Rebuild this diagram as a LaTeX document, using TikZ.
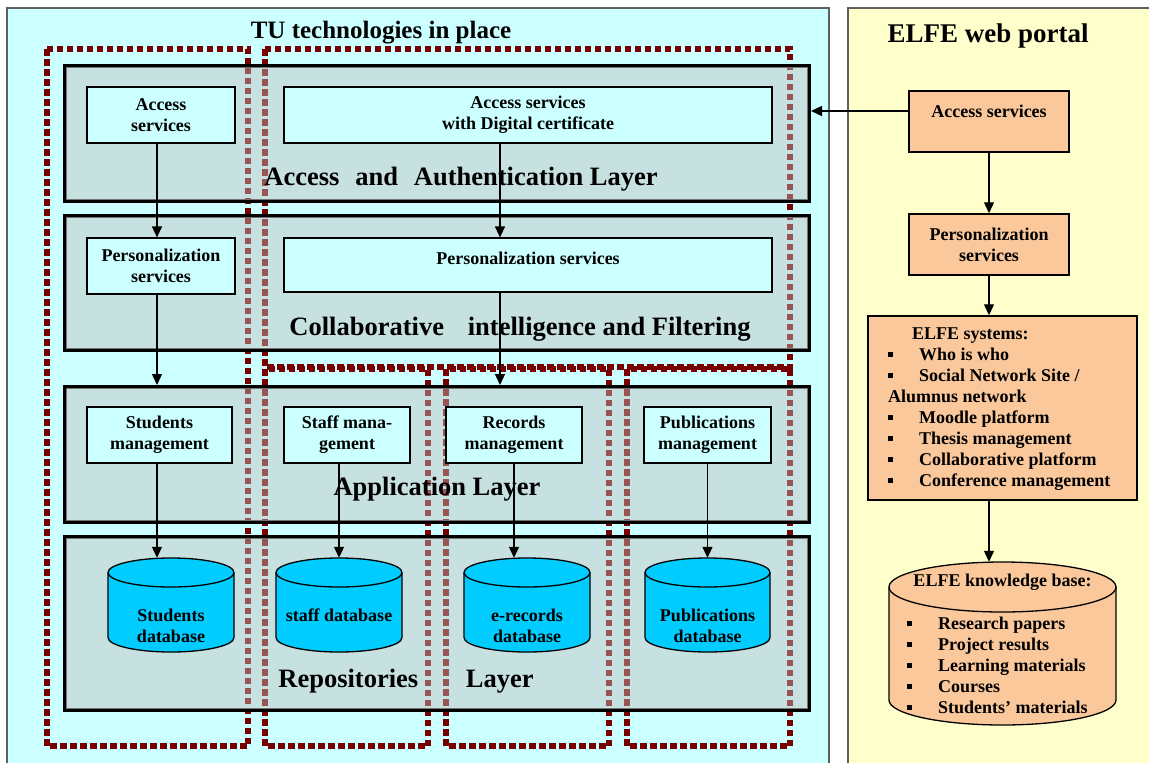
\documentclass[tikz,border=0pt]{standalone}
\usepackage{fontspec}
\setmainfont{Liberation Serif}
\usetikzlibrary{arrows.meta}

\definecolor{panelcyan}{RGB}{204,255,255}
\definecolor{panelyellow}{RGB}{255,255,204}
\definecolor{framegray}{RGB}{95,95,95}
\definecolor{zonered}{RGB}{120,0,0}
\definecolor{layerfill}{RGB}{194,188,188}
\definecolor{peach}{RGB}{250,200,155}
\definecolor{dbcyan}{RGB}{0,204,255}

\newcommand\smallfont{\fontsize{18}{21}\selectfont\bfseries}
\newcommand\layerfont{\fontsize{26.5}{30}\selectfont\bfseries}
\newcommand\bul{\makebox[31pt][l]{\rule[3pt]{5pt}{5pt}}}

% cylinder: name, centre x, top y, x radius, y radius, total height, fill
\newcommand\drum[7]{%
  \filldraw[line width=1.3pt, fill=#7] (#2-#4,#3+#5) -- (#2-#4,#3+#6-#5)
     arc[start angle=180, end angle=0, x radius=#4, y radius=#5]
     -- (#2+#4,#3+#5)
     arc[start angle=0, end angle=-180, x radius=#4, y radius=#5] -- cycle;
  \draw[line width=1.3pt] (#2-#4,#3+#5)
     arc[start angle=180, end angle=0, x radius=#4, y radius=#5];
  \node[inner sep=0pt, minimum width=2*#4, minimum height=#6] (#1) at (#2,#3+#6/2) {};
}

\begin{document}
\begin{tikzpicture}[x=1pt,y=-1pt,
  panel/.style={draw=framegray, line width=1.5pt},
  zone/.style={draw=zonered, line width=5.5pt, dash pattern=on 6.5pt off 3.5pt},
  layerbox/.style={draw=black, line width=4pt, fill=layerfill, fill opacity=0.45, inner sep=0pt},
  layerrim/.style={draw=black!55, line width=1.5pt},
  svc/.style={draw=black, line width=1.2pt, fill=panelcyan, align=center, inner sep=0pt, font=\smallfont},
  portal/.style={draw=black, line width=1.5pt, fill=peach, align=center, inner sep=0pt, font=\smallfont},
  layerlabel/.style={font=\layerfont, inner sep=0pt},
  dbtext/.style={font=\smallfont, align=center, inner sep=0pt},
  listtext/.style={font=\smallfont, align=left, inner sep=0pt, anchor=west},
  title/.style={inner sep=0pt},
  conn/.style={draw=black, line width=1.3pt, -{Triangle[length=11pt,width=10pt]}}
]
\useasboundingbox (0,0) rectangle (1149,763);

% the two panels
\draw[panel, fill=panelcyan] (7,8) rectangle (829,775);
\draw[panel, fill=panelyellow] (848,8) rectangle (1160,775);

\node[title, font=\fontsize{25}{30}\selectfont\bfseries] (tutitle) at (381,33) {TU technologies in place};
\node[title, font=\fontsize{27}{32}\selectfont\bfseries] (elfetitle) at (988,36) {ELFE web portal};

% vertical groupings
\draw[zone] (47,49) rectangle (248,746);
\draw[zone] (265,49) rectangle (790,367);
\draw[zone] (265,369) rectangle (428,746);
\draw[zone] (446,369) rectangle (609,746);
\draw[zone] (627,369) rectangle (790,746);

% horizontal layers
\node[layerbox, minimum width=744, minimum height=135] (lay1) at (437,133.5) {};
\node[layerbox, minimum width=744, minimum height=134] (lay2) at (437,283) {};
\node[layerbox, minimum width=744, minimum height=135] (lay3) at (437,454.5) {};
\node[layerbox, minimum width=744, minimum height=173] (lay4) at (437,623.5) {};
\foreach \l in {lay1,lay2,lay3,lay4}
  \draw[layerrim] ([shift={(3.5pt,-3.5pt)}]\l.north west) rectangle ([shift={(-3.5pt,3.5pt)}]\l.south east);

\node[layerlabel] (lab1) at (461,179) {Access\hspace{0.6em}and\hspace{0.6em}Authentication Layer};
\node[layerlabel] (lab2) at (520,329) {Collaborative\hspace{0.9em}intelligence and Filtering};
\node[layerlabel] (lab3) at (437,489) {Application Layer};
\node[layerlabel] (lab4) at (406,681) {Repositories\hspace{1.8em}Layer};

% service boxes
\node[svc, minimum width=148, minimum height=56] (acc) at (161,115) {Access\\services};
\node[svc, minimum width=488, minimum height=56] (accdc) at (528,115) {Access services\\with Digital certificate};
\node[svc, minimum width=148, minimum height=56] (pers) at (161,266) {Personalization\\services};
\node[svc, minimum width=488, minimum height=54] (persw) at (528,265) {Personalization services\\[-7pt]\mbox{}};

\node[svc, minimum width=145, minimum height=56] (stu) at (159.5,435) {Students\\management};
\node[svc, minimum width=126, minimum height=56] (staff) at (347,435) {Staff mana-\\gement};
\node[svc, minimum width=136, minimum height=56] (rec) at (514,435) {Records\\management};
\node[svc, minimum width=127, minimum height=56] (pub) at (707.5,435) {Publications\\management};

% repositories
\drum{sdb}{171}{558}{63}{14.5}{94}{dbcyan}
\drum{fdb}{339}{558}{63}{14.5}{94}{dbcyan}
\drum{edb}{527}{558}{63}{14.5}{94}{dbcyan}
\drum{pdb}{707.5}{558}{62.5}{14.5}{94}{dbcyan}
\node[dbtext] (sdbt) at (171,625.5) {Students\\database};
\node[dbtext] (fdbt) at (339,615) {staff database};
\node[dbtext] (edbt) at (527,625.5) {e-records\\database};
\node[dbtext] (pdbt) at (707.5,625.5) {Publications\\database};

% portal side
\node[portal, minimum width=160, minimum height=61] (eacc) at (989,121.5) {Access services\\\mbox{}};
\node[portal, minimum width=160, minimum height=61] (epers) at (989,244.5) {Personalization\\services};
\node[portal, minimum width=269, minimum height=184] (esys) at (1002.5,408) {};
\node[listtext] (esyst) at (888,409) {\hspace*{24pt}ELFE systems:\\
  \bul Who is who\\
  \bul Social Network Site /\\
  Alumnus network\\
  \bul Moodle platform\\
  \bul Thesis management\\
  \bul Collaborative platform\\
  \bul Conference management};
\drum{ekb}{1002.5}{562}{113.5}{25}{163}{peach}
\node[dbtext] (ekbt) at (1002.5,582) {ELFE knowledge base:};
\node[listtext] (ekbl) at (907,665) {\bul Research papers\\
  \bul Project results\\
  \bul Learning materials\\
  \bul Courses\\
  \bul Students’ materials};

% connectors
\coordinate (lcol) at (157,0);
\coordinate (wcol) at (500,0);
\coordinate (ecol) at (989,0);
\coordinate (erow) at (0,111);
\draw[conn] (acc.south -| lcol) -- (pers.north -| lcol);
\draw[conn] (pers.south -| lcol) -- (lay3.north -| lcol);
\draw[conn] (accdc.south -| wcol) -- (persw.north -| wcol);
\draw[conn] (persw.south -| wcol) -- (lay3.north -| wcol);
\draw[conn] (stu.south -| lcol) -- (sdb.north -| lcol);
\draw[conn] (staff.south -| fdb.north) -- (fdb.north);
\draw[conn] (rec.south) -- (rec.south |- edb.north);
\draw[conn] (pub.south) -- (pub.south |- pdb.north);
\draw[conn] (eacc.west |- erow) -- (lay1.east |- erow);
\draw[conn] (eacc.south -| ecol) -- (epers.north -| ecol);
\draw[conn] (epers.south -| ecol) -- (esys.north -| ecol);
\draw[conn] (esys.south -| ecol) -- (ekb.north -| ecol);
\end{tikzpicture}
\end{document}
